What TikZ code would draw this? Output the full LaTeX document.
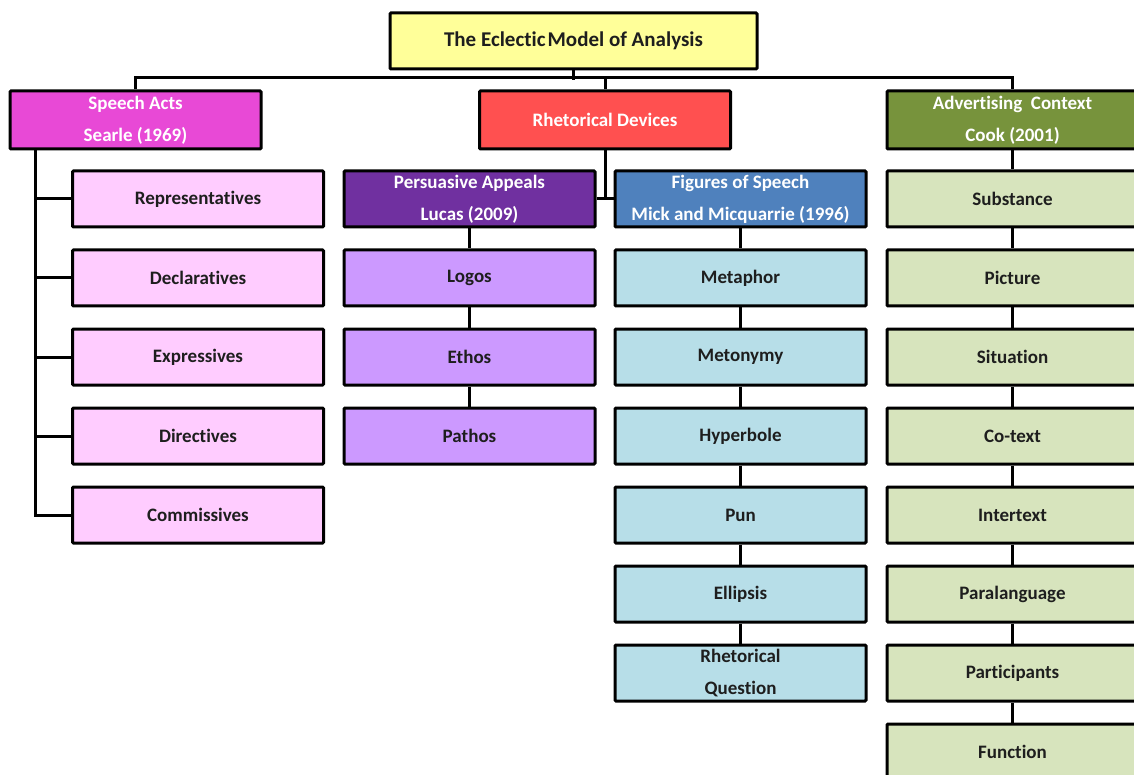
\documentclass[tikz,border=0pt]{standalone}
\usepackage{fontspec}
\setmainfont{Carlito}[Ligatures={NoCommon}]
\usetikzlibrary{calc}
\definecolor{titlefill}{HTML}{FFFF99}
\definecolor{speechfill}{HTML}{E849D6}
\definecolor{rhetfill}{HTML}{FF5050}
\definecolor{advfill}{HTML}{77933C}
\definecolor{speechkid}{HTML}{FFCCFF}
\definecolor{persfill}{HTML}{7030A0}
\definecolor{perskid}{HTML}{CC99FF}
\definecolor{figfill}{HTML}{4F81BD}
\definecolor{figkid}{HTML}{B7DEE8}
\definecolor{advkid}{HTML}{D7E4BD}
\definecolor{darktext}{HTML}{1E1E1E}
\tikzset{
  box/.style={draw=black, line width=3pt, rounded corners=1pt, minimum width=251pt, minimum height=56pt,
    inner sep=0pt, align=center, font=\fontsize{19}{32}\selectfont\bfseries, text=darktext},
  headbox/.style={box, minimum height=58pt, text=white},
  link/.style={draw=black, line width=3pt},
}
\begin{document}
\begin{tikzpicture}[x=1pt,y=1pt]
\useasboundingbox (0,0) rectangle (1134,-775);
\clip (0,0) rectangle (1134,-775);
% title
\node[box, fill=titlefill, minimum width=367pt, font=\fontsize{21}{25}\selectfont\bfseries] (title) at (573.5,-41) {The Eclectic\hspace{0.1em}Model of Analysis};
% level 1
\node[headbox, fill=speechfill] (speech) at (135.5,-120) {Speech Acts\\Searle (1969)};
\node[headbox, fill=rhetfill] (rhet) at (605,-120) {Rhetorical Devices};
\node[headbox, fill=advfill] (adv) at (1012.5,-120) {Advertising\ \ Context\\Cook (2001)};
% speech acts children
\node[box, fill=speechkid] (rep) at (198,-199) {Representatives};
\node[box, fill=speechkid] (dec) at (198,-278) {Declaratives};
\node[box, fill=speechkid] (exp) at (198,-357) {Expressives};
\node[box, fill=speechkid] (dir) at (198,-436) {Directives};
\node[box, fill=speechkid] (com) at (198,-515) {Commissives};
% rhetorical devices
\node[box, fill=persfill, text=white] (pers) at (469.5,-199) {Persuasive Appeals\\Lucas (2009)};
\node[box, fill=figfill, text=white] (figs) at (740.5,-199) {Figures of Speech\\Mick and Micquarrie (1996)};
\node[box, fill=perskid] (logos) at (469.5,-278) {Logos};
\node[box, fill=perskid] (ethos) at (469.5,-357) {Ethos};
\node[box, fill=perskid] (pathos) at (469.5,-436) {Pathos};
\node[box, fill=figkid] (meta) at (740.5,-278) {Metaphor};
\node[box, fill=figkid] (meto) at (740.5,-357) {Metonymy};
\node[box, fill=figkid] (hyp) at (740.5,-436) {Hyperbole};
\node[box, fill=figkid] (pun) at (740.5,-515) {Pun};
\node[box, fill=figkid] (ell) at (740.5,-594) {Ellipsis};
\node[box, fill=figkid] (rq) at (740.5,-673) {Rhetorical\\Question};
% advertising context
\node[box, fill=advkid] (subs) at (1012.5,-199) {Substance};
\node[box, fill=advkid] (pic) at (1012.5,-278) {Picture};
\node[box, fill=advkid] (sit) at (1012.5,-357) {Situation};
\node[box, fill=advkid] (cot) at (1012.5,-436) {Co-text};
\node[box, fill=advkid] (inter) at (1012.5,-515) {Intertext};
\node[box, fill=advkid] (para) at (1012.5,-594) {Paralanguage};
\node[box, fill=advkid] (part) at (1012.5,-673) {Participants};
\node[box, fill=advkid] (func) at (1012.5,-752) {Function};
% connectors: top bus
\path[link] (title.south) -- ++(0,-10);
\path[link] (speech.north) -- ++(0,12) -| (adv.north);
\path[link] (rhet.north) -- ++(0,12);
% speech acts trunk
\path[link] (speech.south west) ++(27,0) |- (com.west);
\foreach \n in {rep,dec,exp,dir} \path[link] (\n.west) -- ++(-35,0);
% rhetorical devices
\path[link] (rhet.south) -- (rhet.south |- pers.east);
\path[link] (pers.east) -- (figs.west);
\path[link] (pers.south) -- (logos.north);
\path[link] (logos.south) -- (ethos.north);
\path[link] (ethos.south) -- (pathos.north);
\path[link] (figs.south) -- (meta.north);
\path[link] (meta.south) -- (meto.north);
\path[link] (meto.south) -- (hyp.north);
\path[link] (hyp.south) -- (pun.north);
\path[link] (pun.south) -- (ell.north);
\path[link] (ell.south) -- (rq.north);
% advertising chain
\path[link] (adv.south) -- (subs.north);
\path[link] (subs.south) -- (pic.north);
\path[link] (pic.south) -- (sit.north);
\path[link] (sit.south) -- (cot.north);
\path[link] (cot.south) -- (inter.north);
\path[link] (inter.south) -- (para.north);
\path[link] (para.south) -- (part.north);
\path[link] (part.south) -- (func.north);
\end{tikzpicture}
\end{document}
